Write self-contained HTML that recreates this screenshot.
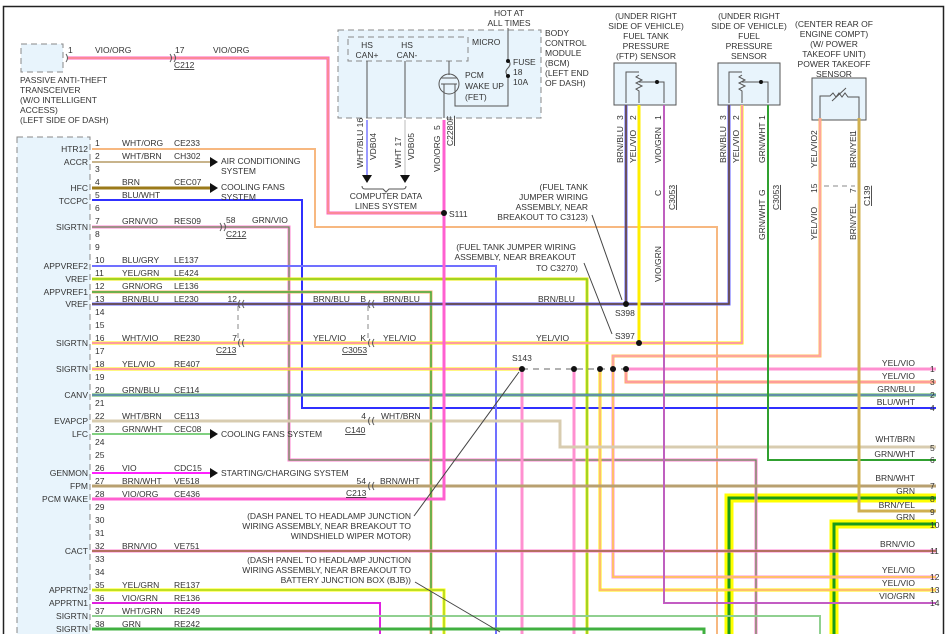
<!DOCTYPE html>
<html><head><meta charset="utf-8"><style>
html,body{margin:0;padding:0;background:#fff}
svg{display:block}
text{font-family:"Liberation Sans",sans-serif;font-size:8.5px;fill:#333}
.r{text-anchor:end}.m{text-anchor:middle}
.w{fill:none;stroke-linejoin:miter}
</style></head><body>
<svg width="946" height="634" viewBox="0 0 946 634" xmlns="http://www.w3.org/2000/svg">
<rect width="946" height="634" fill="#fff"/>
<path d="M3.5,634 V6.5 H943.5 V634" fill="none" stroke="#222" stroke-width="1.5"/>

<rect x="17" y="137" width="73" height="500" fill="#e8f4fc" stroke="#888" stroke-dasharray="6,4"/>
<rect x="21" y="44" width="42" height="28" fill="#e8f4fc" stroke="#888" stroke-dasharray="6,4"/>
<text x="20" y="83">PASSIVE ANTI-THEFT</text><text x="20" y="93">TRANSCEIVER</text><text x="20" y="103">(W/O INTELLIGENT</text><text x="20" y="113">ACCESS)</text><text x="20" y="123">(LEFT SIDE OF DASH)</text>

<rect x="338" y="30" width="203" height="88" fill="#e8f4fc" stroke="#888" stroke-dasharray="6,4"/>
<rect x="348" y="37" width="120" height="24" fill="#e8f4fc" stroke="#888" stroke-dasharray="6,4"/>
<text x="367" y="48" class="m">HS</text><text x="367" y="58" class="m">CAN+</text>
<text x="407" y="48" class="m">HS</text><text x="407" y="58" class="m">CAN-</text>
<text x="472" y="45">MICRO</text>
<text x="545" y="36">BODY</text><text x="545" y="46">CONTROL</text><text x="545" y="56">MODULE</text><text x="545" y="66">(BCM)</text><text x="545" y="76">(LEFT END</text><text x="545" y="86">OF DASH)</text>
<text x="509" y="16" class="m">HOT AT</text><text x="509" y="26" class="m">ALL TIMES</text>
<path d="M508,28 V60 M508,76 V106 H455 V88 M449,61 V75" fill="none" stroke="#555"/>
<path d="M508,60 q4,4 0,8 q-4,4 0,8" fill="none" stroke="#555"/>
<circle cx="508" cy="61" r="2" fill="#111"/><circle cx="508" cy="76" r="2" fill="#111"/>
<text x="513" y="65">FUSE</text><text x="513" y="75">18</text><text x="513" y="85">10A</text>
<circle cx="449" cy="84" r="10" fill="none" stroke="#555"/>
<path d="M441,78 H457 M441,84 H457 M444,84 V118 M455,84 V94" fill="none" stroke="#555"/>
<text x="465" y="78">PCM</text><text x="465" y="89">WAKE UP</text><text x="465" y="100">(FET)</text>

<line x1="367" y1="61" x2="367" y2="118" stroke="#555"/><line x1="405" y1="61" x2="405" y2="118" stroke="#555"/>
<line x1="367" y1="120" x2="367" y2="175" stroke="#9a9aff" stroke-width="2"/>
<line x1="405" y1="120" x2="405" y2="175" stroke="#ddd" stroke-width="2"/>
<polygon points="362,175 372,175 367,183" fill="#111"/><polygon points="400,175 410,175 405,183" fill="#111"/>
<path d="M362,186 q0,3 3,3 H383 l3,3 l3,-3 H403 q3,0 3,-3" fill="none" stroke="#555"/>
<text x="386" y="199" class="m">COMPUTER DATA</text><text x="386" y="209" class="m">LINES SYSTEM</text>
<text transform="translate(363,168) rotate(-90)">WHT/BLU 16</text>
<text transform="translate(376,160) rotate(-90)">VDB04</text>
<text transform="translate(401,168) rotate(-90)">WHT 17</text>
<text transform="translate(414,160) rotate(-90)">VDB05</text>
<text transform="translate(440,172) rotate(-90)">VIO/ORG</text>
<text transform="translate(440,130) rotate(-90)">5</text>
<text transform="translate(453,146) rotate(-90)" style="text-decoration:underline">C2280F</text>

<g>
<text x="646" y="19" class="m">(UNDER RIGHT</text><text x="646" y="29" class="m">SIDE OF VEHICLE)</text><text x="646" y="39" class="m">FUEL TANK</text><text x="646" y="49" class="m">PRESSURE</text><text x="646" y="59" class="m">(FTP) SENSOR</text>
<rect x="614" y="63" width="62" height="42" fill="#e8f4fc" stroke="#555"/>
<path d="M626,103 V72 H639 M639,75 l-3,2 6,3 -6,3 6,3 -6,3 3,2 V103 M639,82 H664 V103" fill="none" stroke="#555"/>
<circle cx="657" cy="82" r="2" fill="#111"/>
<text x="749" y="19" class="m">(UNDER RIGHT</text><text x="749" y="29" class="m">SIDE OF VEHICLE)</text><text x="749" y="39" class="m">FUEL</text><text x="749" y="49" class="m">PRESSURE</text><text x="749" y="59" class="m">SENSOR</text>
<rect x="718" y="63" width="62" height="42" fill="#e8f4fc" stroke="#555"/>
<path d="M729,103 V72 H742 M742,75 l-3,2 6,3 -6,3 6,3 -6,3 3,2 V103 M742,82 H768 V103" fill="none" stroke="#555"/>
<circle cx="761" cy="82" r="2" fill="#111"/>
<text x="834" y="27" class="m">(CENTER REAR OF</text><text x="834" y="37" class="m">ENGINE COMPT)</text><text x="834" y="47" class="m">(W/ POWER</text><text x="834" y="57" class="m">TAKEOFF UNIT)</text><text x="834" y="67" class="m">POWER TAKEOFF</text><text x="834" y="77" class="m">SENSOR</text>
<rect x="812" y="78" width="54" height="42" fill="#e8f4fc" stroke="#555"/>
<path d="M820,118 V96 H830 l3,-3 3,4 3,-4 3,4 3,-4 3,4 H859 V118 M832,101 L846,88" fill="none" stroke="#555"/>
</g>
<text transform="translate(623,120) rotate(-90)">3</text><text transform="translate(636,120) rotate(-90)">2</text><text transform="translate(661,120) rotate(-90)">1</text>
<text transform="translate(623,163) rotate(-90)">BRN/BLU</text><text transform="translate(636,163) rotate(-90)">YEL/VIO</text><text transform="translate(661,163) rotate(-90)">VIO/GRN</text>
<text transform="translate(726,120) rotate(-90)">3</text><text transform="translate(739,120) rotate(-90)">2</text><text transform="translate(765,120) rotate(-90)">1</text>
<text transform="translate(726,163) rotate(-90)">BRN/BLU</text><text transform="translate(739,163) rotate(-90)">YEL/VIO</text><text transform="translate(765,163) rotate(-90)">GRN/WHT</text>
<text transform="translate(817,135) rotate(-90)">2</text><text transform="translate(856,135) rotate(-90)">1</text>
<text transform="translate(817,168) rotate(-90)">YEL/VIO</text><text transform="translate(856,168) rotate(-90)">BRN/YEL</text>
<text transform="translate(661,196) rotate(-90)">C</text><text transform="translate(675,210) rotate(-90)" style="text-decoration:underline">C3053</text>
<text transform="translate(765,196) rotate(-90)">G</text><text transform="translate(779,210) rotate(-90)" style="text-decoration:underline">C3053</text>
<text transform="translate(765,240) rotate(-90)">GRN/WHT</text>
<text transform="translate(661,282) rotate(-90)">VIO/GRN</text>
<text transform="translate(817,193) rotate(-90)">15</text><text transform="translate(856,193) rotate(-90)">7</text>
<text transform="translate(870,206) rotate(-90)" style="text-decoration:underline">C139</text>
<line x1="824" y1="186" x2="855" y2="186" stroke="#888" stroke-dasharray="5,4"/>
<text transform="translate(817,240) rotate(-90)">YEL/VIO</text><text transform="translate(856,240) rotate(-90)">BRN/YEL</text>

<g class="w">
<polyline points="729,634 729,498 936,498" stroke="#ffff00" stroke-width="9"/>
<polyline points="834,634 834,524 936,524" stroke="#ffff00" stroke-width="9"/>
<polyline points="729,634 729,498 936,498" stroke="#1a9a1a" stroke-width="3"/>
<polyline points="834,634 834,524 936,524" stroke="#1a9a1a" stroke-width="3"/>

<polyline points="68,58 328,58 328,213 444,213" stroke="#ff60c0" stroke-width="3"/>
<polyline points="68,58 328,58 328,213 444,213" stroke="#f7b070" stroke-width="1"/>
<polyline points="92,149 315,149 315,227 717,227 717,634" stroke="#f7b880" stroke-width="2"/>
<polyline points="92,162 210,162" stroke="#c8b48c" stroke-width="2"/>
<polyline points="92,188 210,188" stroke="#9b7a1a" stroke-width="3"/>
<polyline points="92,200 302,200 302,408 936,408" stroke="#3030ff" stroke-width="2"/>
<polyline points="92,227 289,227 289,460 756,460 756,634" stroke="#ff80d0" stroke-width="3"/>
<polyline points="92,227 289,227 289,460 756,460 756,634" stroke="#40a040" stroke-width="1"/>
<polyline points="92,266 496,266 496,634" stroke="#7070ff" stroke-width="2"/>
<polyline points="92,279 587,279 587,634" stroke="#e8e800" stroke-width="3"/>
<polyline points="92,279 587,279 587,634" stroke="#60c040" stroke-width="1"/>
<polyline points="92,292 431,292 431,634" stroke="#f7b070" stroke-width="3"/>
<polyline points="92,292 431,292 431,634" stroke="#40b040" stroke-width="1.5"/>
<polyline points="92,304 729,304 729,105" stroke="#6060ff" stroke-width="3"/>
<polyline points="92,304 729,304 729,105" stroke="#6b4a2b" stroke-width="1.5"/>
<polyline points="626,304 626,105" stroke="#6060ff" stroke-width="3"/>
<polyline points="626,304 626,105" stroke="#6b4a2b" stroke-width="1.5"/>
<polyline points="92,343 742,343 742,105" stroke="#ffee00" stroke-width="3"/>
<polyline points="92,343 742,343 742,105" stroke="#ff80d0" stroke-width="1.5"/>
<polyline points="639,343 639,105" stroke="#ffee00" stroke-width="3"/>
<polyline points="92,369 522,369" stroke="#ffee00" stroke-width="3"/>
<polyline points="92,369 522,369" stroke="#ff80d0" stroke-width="1.5"/>
<polyline points="626,369 936,369" stroke="#ff90d0" stroke-width="3"/>
<polyline points="626,369 626,382 936,382" stroke="#ffaa60" stroke-width="3"/>
<polyline points="626,369 626,382 936,382" stroke="#ff90d0" stroke-width="1"/>
<polyline points="613,369 613,356 820,356 820,118" stroke="#ffbb60" stroke-width="3"/>
<polyline points="613,369 613,356 820,356 820,118" stroke="#ff90d0" stroke-width="1"/>
<polyline points="522,369 522,634" stroke="#ff90d0" stroke-width="3"/>
<polyline points="574,369 574,634" stroke="#ff90d0" stroke-width="3"/>
<polyline points="613,369 613,577 936,577" stroke="#ff90d0" stroke-width="3"/>
<polyline points="613,369 613,577 936,577" stroke="#ffee00" stroke-width="1"/>
<polyline points="600,369 600,590 936,590" stroke="#ffee00" stroke-width="3"/>
<polyline points="600,369 600,590 936,590" stroke="#ff90d0" stroke-width="1"/>
<polyline points="92,395 936,395" stroke="#50b050" stroke-width="3"/>
<polyline points="92,395 936,395" stroke="#7070ff" stroke-width="1"/>
<polyline points="92,421 560,421 560,447 936,447" stroke="#d8ccb0" stroke-width="3"/>
<polyline points="92,434 210,434" stroke="#80d080" stroke-width="2"/>
<polyline points="92,473 210,473" stroke="#ff20ff" stroke-width="2"/>
<polyline points="92,486 936,486" stroke="#b8a070" stroke-width="3"/>
<polyline points="92,499 444,499 444,120" stroke="#ff60d0" stroke-width="3"/>
<polyline points="92,551 936,551" stroke="#ff80d0" stroke-width="3"/>
<polyline points="92,551 936,551" stroke="#9b6a3a" stroke-width="1.5"/>
<polyline points="92,590 444,590 444,634" stroke="#ffff00" stroke-width="3"/>
<polyline points="92,590 444,590 444,634" stroke="#80c040" stroke-width="1"/>
<polyline points="92,603 380,603 380,634" stroke="#e020e0" stroke-width="2"/>
<polyline points="92,616 820,616 820,634" stroke="#90d090" stroke-width="2"/>
<polyline points="92,629 704,629 704,634" stroke="#40b040" stroke-width="3"/>
<polyline points="768,105 768,460 936,460" stroke="#30a030" stroke-width="2"/>
<polyline points="664,105 664,603 936,603" stroke="#ff20ff" stroke-width="2"/>
<polyline points="664,105 664,603 936,603" stroke="#60c060" stroke-width="0.8"/>
<polyline points="859,118 859,511 936,511" stroke="#d0b050" stroke-width="3"/>
<line x1="522" y1="369" x2="626" y2="369" stroke="#666" stroke-dasharray="6,5"/>
<line x1="238" y1="306" x2="238" y2="340" stroke="#888" stroke-dasharray="5,4"/>
<line x1="368" y1="306" x2="368" y2="340" stroke="#888" stroke-dasharray="5,4"/>
</g>
<g fill="#111">
<circle cx="444" cy="213" r="3"/><circle cx="626" cy="304" r="3"/><circle cx="639" cy="343" r="3"/>
<circle cx="522" cy="369" r="3"/><circle cx="574" cy="369" r="3"/><circle cx="600" cy="369" r="3"/><circle cx="613" cy="369" r="3"/><circle cx="626" cy="369" r="3"/>
<polygon points="210,157 218,162 210,167"/><polygon points="210,183 218,188 210,193"/><polygon points="210,429 218,434 210,439"/><polygon points="210,468 218,473 210,478"/>
</g>
<text x="449" y="217">S111</text><text x="615" y="316">S398</text><text x="615" y="339">S397</text><text x="512" y="361">S143</text>
<g fill="none" stroke="#555">
<path d="M66,54 q3,4 0,8 M170,54 q3,4 0,8 M174,54 q3,4 0,8"/>
<path d="M220,223 q3,4 0,8 M224,223 q3,4 0,8"/>
<path d="M240,300 q-3,4 0,8 M244,300 q-3,4 0,8 M240,339 q-3,4 0,8 M244,339 q-3,4 0,8"/>
<path d="M370,300 q-3,4 0,8 M374,300 q-3,4 0,8 M370,339 q-3,4 0,8 M374,339 q-3,4 0,8"/>
<path d="M370,417 q-3,4 0,8 M374,417 q-3,4 0,8 M370,482 q-3,4 0,8 M374,482 q-3,4 0,8"/>
</g>
<text x="68" y="53">1</text><text x="95" y="53">VIO/ORG</text><text x="175" y="53">17</text><text x="213" y="53">VIO/ORG</text><text x="174" y="68" style="text-decoration:underline">C212</text>
<text x="226" y="223">58</text><text x="252" y="223">GRN/VIO</text><text x="226" y="237" style="text-decoration:underline">C212</text>
<text x="237" y="302" class="r">12</text><text x="237" y="341" class="r">7</text><text x="216" y="353" style="text-decoration:underline">C213</text>
<text x="313" y="302">BRN/BLU</text><text x="366" y="302" class="r">B</text><text x="383" y="302">BRN/BLU</text><text x="538" y="302">BRN/BLU</text>
<text x="313" y="341">YEL/VIO</text><text x="366" y="341" class="r">K</text><text x="383" y="341">YEL/VIO</text><text x="536" y="341">YEL/VIO</text><text x="342" y="353" style="text-decoration:underline">C3053</text>
<text x="366" y="419" class="r">4</text><text x="381" y="419">WHT/BRN</text><text x="345" y="433" style="text-decoration:underline">C140</text>
<text x="366" y="484" class="r">54</text><text x="380" y="484">BRN/WHT</text><text x="346" y="496" style="text-decoration:underline">C213</text>
<text x="221" y="164">AIR CONDITIONING</text><text x="221" y="174">SYSTEM</text>
<text x="221" y="190">COOLING FANS</text><text x="221" y="200">SYSTEM</text>
<text x="221" y="437">COOLING FANS SYSTEM</text><text x="221" y="476">STARTING/CHARGING SYSTEM</text>
<text x="588" y="190" class="r">(FUEL TANK</text><text x="588" y="200" class="r">JUMPER WIRING</text><text x="588" y="210" class="r">ASSEMBLY, NEAR</text><text x="588" y="220" class="r">BREAKOUT TO C3123)</text>
<text x="576" y="250" class="r">(FUEL TANK JUMPER WIRING</text><text x="576" y="260" class="r">ASSEMBLY, NEAR BREAKOUT</text><text x="578" y="271" class="r">TO C3270)</text>
<text x="411" y="519" class="r">(DASH PANEL TO HEADLAMP JUNCTION</text><text x="411" y="529" class="r">WIRING ASSEMBLY, NEAR BREAKOUT TO</text><text x="411" y="539" class="r">WINDSHIELD WIPER MOTOR)</text>
<text x="411" y="563" class="r">(DASH PANEL TO HEADLAMP JUNCTION</text><text x="411" y="573" class="r">WIRING ASSEMBLY, NEAR BREAKOUT TO</text><text x="411" y="583" class="r">BATTERY JUNCTION BOX (BJB))</text>
<g stroke="#444" fill="none"><path d="M592,215 L622,300 M584,263 L612,334 M414,516 L519,372 M415,582 L500,632"/></g>
<g>
<text x="915" y="366" class="r">YEL/VIO</text><text x="930" y="372">1</text>
<text x="915" y="379" class="r">YEL/VIO</text><text x="930" y="385">3</text>
<text x="915" y="392" class="r">GRN/BLU</text><text x="930" y="398">2</text>
<text x="915" y="405" class="r">BLU/WHT</text><text x="930" y="411">4</text>
<text x="915" y="442" class="r">WHT/BRN</text><text x="930" y="451">5</text>
<text x="915" y="457" class="r">GRN/WHT</text><text x="930" y="463">6</text>
<text x="915" y="481" class="r">BRN/WHT</text><text x="930" y="489">7</text>
<text x="915" y="494" class="r">GRN</text><text x="930" y="502">8</text>
<text x="915" y="508" class="r">BRN/YEL</text><text x="930" y="515">9</text>
<text x="915" y="520" class="r">GRN</text><text x="930" y="528">10</text>
<text x="915" y="547" class="r">BRN/VIO</text><text x="930" y="554">11</text>
<text x="915" y="573" class="r">YEL/VIO</text><text x="930" y="580">12</text>
<text x="915" y="586" class="r">YEL/VIO</text><text x="930" y="593">13</text>
<text x="915" y="599" class="r">VIO/GRN</text><text x="930" y="606">14</text>
</g>
<g>
<text x="88" y="152" class="r">HTR12</text><text x="88" y="165" class="r">ACCR</text><text x="88" y="191" class="r">HFC</text><text x="88" y="204" class="r">TCCPC</text>
<text x="88" y="230" class="r">SIGRTN</text><text x="88" y="269" class="r">APPVREF2</text><text x="88" y="282" class="r">VREF</text><text x="88" y="295" class="r">APPVREF1</text>
<text x="88" y="307" class="r">VREF</text><text x="88" y="346" class="r">SIGRTN</text><text x="88" y="372" class="r">SIGRTN</text><text x="88" y="398" class="r">CANV</text>
<text x="88" y="424" class="r">EVAPCP</text><text x="88" y="437" class="r">LFC</text><text x="88" y="476" class="r">GENMON</text><text x="88" y="489" class="r">FPM</text>
<text x="88" y="502" class="r">PCM WAKE</text><text x="88" y="554" class="r">CACT</text><text x="88" y="593" class="r">APPRTN2</text><text x="88" y="606" class="r">APPRTN1</text>
<text x="88" y="619" class="r">SIGRTN</text><text x="88" y="632" class="r">SIGRTN</text>
</g>
<g>
<text x="95" y="146">1</text><text x="95" y="159">2</text><text x="95" y="172">3</text><text x="95" y="185">4</text><text x="95" y="198">5</text><text x="95" y="211">6</text><text x="95" y="224">7</text><text x="95" y="237">8</text><text x="95" y="250">9</text><text x="95" y="263">10</text><text x="95" y="276">11</text><text x="95" y="289">12</text><text x="95" y="302">13</text><text x="95" y="315">14</text><text x="95" y="328">15</text><text x="95" y="341">16</text><text x="95" y="354">17</text><text x="95" y="367">18</text><text x="95" y="380">19</text><text x="95" y="393">20</text><text x="95" y="406">21</text><text x="95" y="419">22</text><text x="95" y="432">23</text><text x="95" y="445">24</text><text x="95" y="458">25</text><text x="95" y="471">26</text><text x="95" y="484">27</text><text x="95" y="497">28</text><text x="95" y="510">29</text><text x="95" y="523">30</text><text x="95" y="536">31</text><text x="95" y="549">32</text><text x="95" y="562">33</text><text x="95" y="575">34</text><text x="95" y="588">35</text><text x="95" y="601">36</text><text x="95" y="614">37</text><text x="95" y="627">38</text>
</g>
<g>
<text x="122" y="146">WHT/ORG</text><text x="174" y="146">CE233</text>
<text x="122" y="159">WHT/BRN</text><text x="174" y="159">CH302</text>
<text x="122" y="185">BRN</text><text x="174" y="185">CEC07</text>
<text x="122" y="198">BLU/WHT</text>
<text x="122" y="224">GRN/VIO</text><text x="174" y="224">RES09</text>
<text x="122" y="263">BLU/GRY</text><text x="174" y="263">LE137</text>
<text x="122" y="276">YEL/GRN</text><text x="174" y="276">LE424</text>
<text x="122" y="289">GRN/ORG</text><text x="174" y="289">LE136</text>
<text x="122" y="302">BRN/BLU</text><text x="174" y="302">LE230</text>
<text x="122" y="341">WHT/VIO</text><text x="174" y="341">RE230</text>
<text x="122" y="367">YEL/VIO</text><text x="174" y="367">RE407</text>
<text x="122" y="393">GRN/BLU</text><text x="174" y="393">CE114</text>
<text x="122" y="419">WHT/BRN</text><text x="174" y="419">CE113</text>
<text x="122" y="432">GRN/WHT</text><text x="174" y="432">CEC08</text>
<text x="122" y="471">VIO</text><text x="174" y="471">CDC15</text>
<text x="122" y="484">BRN/WHT</text><text x="174" y="484">VE518</text>
<text x="122" y="497">VIO/ORG</text><text x="174" y="497">CE436</text>
<text x="122" y="549">BRN/VIO</text><text x="174" y="549">VE751</text>
<text x="122" y="588">YEL/GRN</text><text x="174" y="588">RE137</text>
<text x="122" y="601">VIO/GRN</text><text x="174" y="601">RE136</text>
<text x="122" y="614">WHT/GRN</text><text x="174" y="614">RE249</text>
<text x="122" y="627">GRN</text><text x="174" y="627">RE242</text>
</g>
</svg>
</body></html>
